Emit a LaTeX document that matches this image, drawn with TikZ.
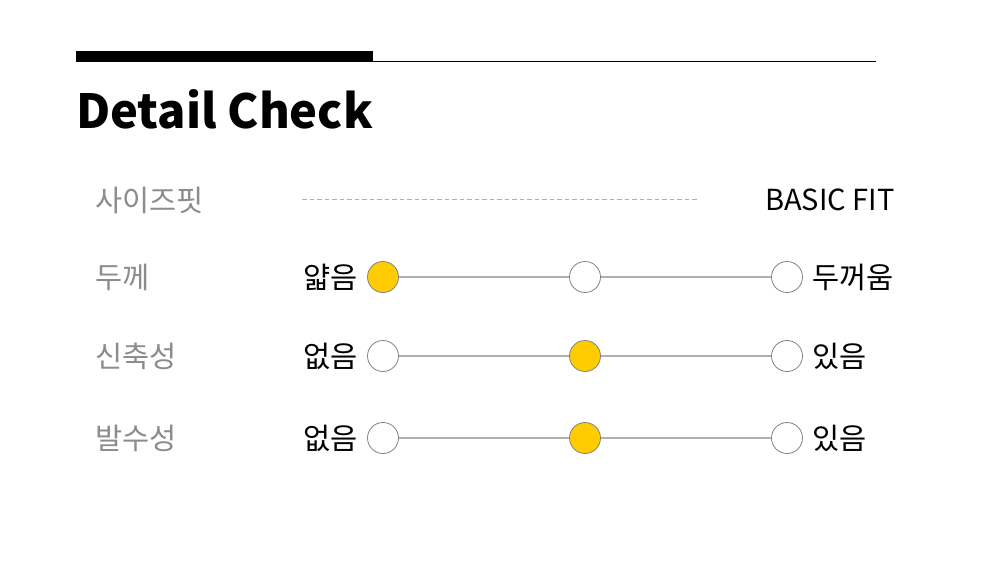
\documentclass[tikz,border=0pt]{standalone}
\usepackage{fontspec}
\setmainfont{Noto Sans CJK KR}
\usepackage{tikz}
\usetikzlibrary{positioning}
\definecolor{pick}{RGB}{255, 204, 0}
\definecolor{label}{RGB}{140, 140, 140}
\definecolor{track}{RGB}{176, 176, 176}
\definecolor{rim}{RGB}{130, 130, 130}

\begin{document}
\begin{tikzpicture}[x=1pt, y=-1pt,
  dot/.style={circle, draw=rim, line width=0.8pt, fill=white, minimum size=31pt, inner sep=0pt},
  on/.style={fill=pick},
  head/.style={anchor=west, text=label, font=\fontsize{29.5}{29.5}\selectfont},
  lo/.style={anchor=east, font=\fontsize{29.5}{29.5}\selectfont},
  hi/.style={anchor=west, font=\fontsize{29.5}{29.5}\selectfont}]
  \useasboundingbox[fill=white] (0, 0) rectangle (981, 571);

  \fill (76, 51) rectangle (373, 61.5);
  \fill (373, 60.5) rectangle (876, 61.5);
  \node[anchor=base west, inner sep=0pt, font=\fontsize{47}{47}\selectfont\bfseries] (title) at (76, 128) {Detail Check};

  % size fit
  \node[head] (size) at (92, 200) {사이즈핏};
  \coordinate (d1) at (302, 199);
  \coordinate (d2) at (697, 199);
  \draw[track, line width=1pt, dash pattern=on 4.5pt off 3pt] (d1) -- (d2);
  \node[anchor=east, font=\fontsize{29}{29}\selectfont] (fit) at (898, 200) {BASIC FIT};

  % thickness
  \node[head] (thick) at (92, 277) {두께};
  \node[dot, on] (t1) at (383, 277) {};
  \node[dot] (t2) at (585, 277) {};
  \node[dot] (t3) at (787, 277) {};
  \draw[track, line width=1.8pt] (t1) -- (t2);
  \draw[track, line width=1.8pt] (t2) -- (t3);
  \node[lo, left=6pt of t1] (tlo) {얇음};
  \node[hi, right=6pt of t3] (thi) {두꺼움};

  % stretch
  \node[head] (stretch) at (92, 356) {신축성};
  \node[dot] (s1) at (383, 356) {};
  \node[dot, on] (s2) at (585, 356) {};
  \node[dot] (s3) at (787, 356) {};
  \draw[track, line width=1.8pt] (s1) -- (s2);
  \draw[track, line width=1.8pt] (s2) -- (s3);
  \node[lo, left=6pt of s1] (slo) {없음};
  \node[hi, right=6pt of s3] (shi) {있음};

  % water
  \node[head] (water) at (92, 438) {발수성};
  \node[dot] (w1) at (383, 438) {};
  \node[dot, on] (w2) at (585, 438) {};
  \node[dot] (w3) at (787, 438) {};
  \draw[track, line width=1.8pt] (w1) -- (w2);
  \draw[track, line width=1.8pt] (w2) -- (w3);
  \node[lo, left=6pt of w1] (wlo) {없음};
  \node[hi, right=6pt of w3] (whi) {있음};
\end{tikzpicture}
\end{document}
